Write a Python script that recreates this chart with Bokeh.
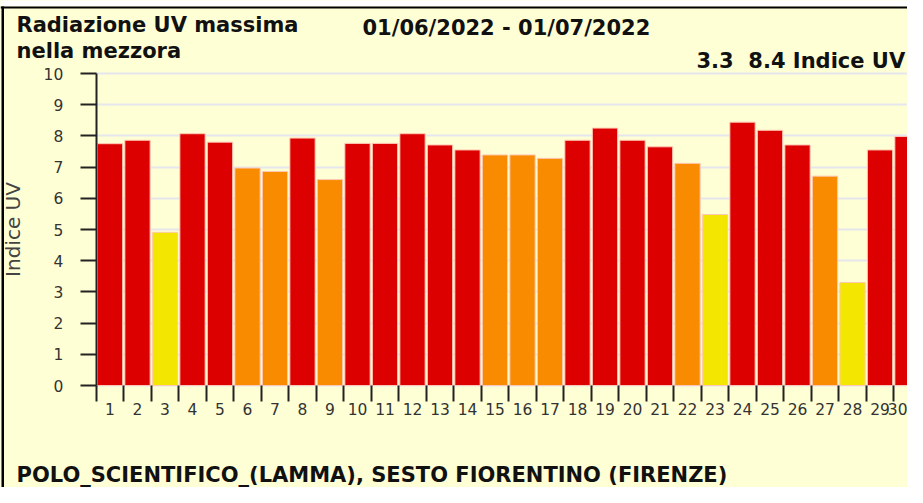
import math
from bokeh.plotting import figure
from bokeh.models import ColumnDataSource, FixedTicker, Label, Range1d, BoxAnnotation
from bokeh.embed import file_html
from bokeh.resources import INLINE

# ---- data ----
days = list(range(1, 31))
uv_max = [7.75, 7.86, 4.91, 8.07, 7.80, 6.97, 6.86, 7.93, 6.60, 7.76,
          7.76, 8.07, 7.71, 7.55, 7.39, 7.39, 7.28, 7.86, 8.25, 7.86,
          7.65, 7.12, 5.48, 8.44, 8.18, 7.71, 6.71, 3.30, 7.55, 7.98]
y_ticks = list(range(0, 11))
day_boundaries = [d - 0.5 for d in days] + [days[-1] + 0.5]

title_line1 = "Radiazione UV massima"
title_line2 = "nella mezzora"
period = "01/06/2022 - 01/07/2022"
range_text = "3.3\u00a0 8.4 Indice UV"
station = "POLO_SCIENTIFICO_(LAMMA), SESTO FIORENTINO (FIRENZE)"
y_title = "Indice UV"

# ---- styles / layout ----
BG = "#FFFFD5"
RED = "#DD0000"
ORANGE = "#F88B00"
YELLOW = "#F3E600"
FONT = "DejaVu Sans"
INK = "#111111"

W, H = 907, 487          # canvas, placed at page (8, 8)
CX, CY = 8, 8
PX_DAY = 27.5            # pixels per day
PX_UV = 31.2             # pixels per UV unit
X_AXIS_PAGE = 103.75     # page x of the y axis (x = 0.5)
Y_ZERO_PAGE = 393.0      # page y of UV = 0

x_start = 0.5 - (X_AXIS_PAGE - CX) / PX_DAY
x_end = x_start + W / PX_DAY
y_start = -(CY + H - Y_ZERO_PAGE) / PX_UV
y_end = y_start + H / PX_UV


def uv_color(v):
    r = round(v)
    if r >= 8:
        return RED
    if r >= 6:
        return ORANGE
    return YELLOW


src = ColumnDataSource(dict(day=days, uv=uv_max, color=[uv_color(v) for v in uv_max]))

p = figure(width=W, height=H,
           x_range=Range1d(x_start, x_end), y_range=Range1d(y_start, y_end),
           output_backend="svg", toolbar_location=None,
           min_border=0, min_border_left=0, min_border_right=0,
           min_border_top=0, min_border_bottom=0)
p.background_fill_color = BG
p.border_fill_color = BG
p.outline_line_color = None

# grid (horizontal lines only), hidden left of the y axis
p.xgrid.grid_line_color = None
p.ygrid.ticker = FixedTicker(ticks=y_ticks)
p.ygrid.grid_line_color = "#E6E6EE"
p.ygrid.grid_line_width = 2
p.add_layout(BoxAnnotation(right=0.5, fill_color=BG, fill_alpha=1.0,
                           line_color=None, level="underlay"))

p.vbar(x="day", top="uv", width=0.92, source=src,
       fill_color="color", line_color="#FFC8B4", line_width=1)

# y axis at x = 0.5, spanning 0..10
p.yaxis.fixed_location = 0.5
p.yaxis.bounds = (0, 10)
p.yaxis.ticker = FixedTicker(ticks=y_ticks)
p.yaxis.major_tick_out = 16
p.yaxis.major_tick_in = 0
p.yaxis.minor_tick_out = 0
p.yaxis.minor_tick_in = 0
p.yaxis.axis_line_width = 2
p.yaxis.axis_line_color = "#222222"
p.yaxis.major_tick_line_width = 2
p.yaxis.major_tick_line_color = "#222222"
p.yaxis.major_label_standoff = 17
p.yaxis.major_label_text_font = FONT
p.yaxis.major_label_text_font_size = "15.5px"
p.yaxis.major_label_text_color = "#333333"

# x axis at UV = 0: labels at day centres, tick marks at day boundaries
p.xaxis.fixed_location = 0
p.xaxis.ticker = FixedTicker(ticks=days, minor_ticks=day_boundaries)
p.xaxis.axis_line_color = None
p.xaxis.major_tick_out = 0
p.xaxis.major_tick_in = 0
p.xaxis.minor_tick_out = 16
p.xaxis.minor_tick_in = 0
p.xaxis.minor_tick_line_width = 2
p.xaxis.minor_tick_line_color = "#222222"
p.xaxis.major_label_standoff = 1
p.xaxis.major_label_text_font = FONT
p.xaxis.major_label_text_font_size = "15.5px"
p.xaxis.major_label_text_color = "#333333"

# page frame: white band on top, black top and left border lines
top_white = y_end - 6 / PX_UV
top_black = y_end - 8 / PX_UV
p.add_layout(BoxAnnotation(bottom=top_white, fill_color="white", fill_alpha=1.0,
                           line_color=None, level="overlay"))
p.add_layout(BoxAnnotation(bottom=top_black, top=top_white, fill_color="black",
                           fill_alpha=1.0, line_color=None, level="overlay"))
p.add_layout(BoxAnnotation(left=x_start + 1 / PX_DAY, right=x_start + 3.5 / PX_DAY,
                           top=top_white, fill_color="black", fill_alpha=1.0,
                           line_color=None, level="overlay"))


# texts: screen units relative to the frame (= canvas), y measured up from the bottom;
# positions given as page x (left edge or centre) and page y of the text middle
def add_text(text, px, mid_py, size="21px", style="bold", color=INK, align="left", angle=0.0):
    p.add_layout(Label(x=px - CX, y=CY + H - mid_py, x_units="screen", y_units="screen",
                       text=text, text_font=FONT, text_font_size=size,
                       text_font_style=style, text_color=color,
                       text_baseline="middle", text_align=align, angle=angle))


add_text(title_line1, 24, 32.5)
add_text(title_line2, 24, 58.5)
add_text(period, 370, 35.5)
add_text(range_text, 704, 68.5)
add_text(station, 24, 482)
add_text(y_title, 20, 237, size="20px", style="normal", color="#444444",
         align="center", angle=math.pi / 2)

open("out.html", "w").write(file_html(p, INLINE))
